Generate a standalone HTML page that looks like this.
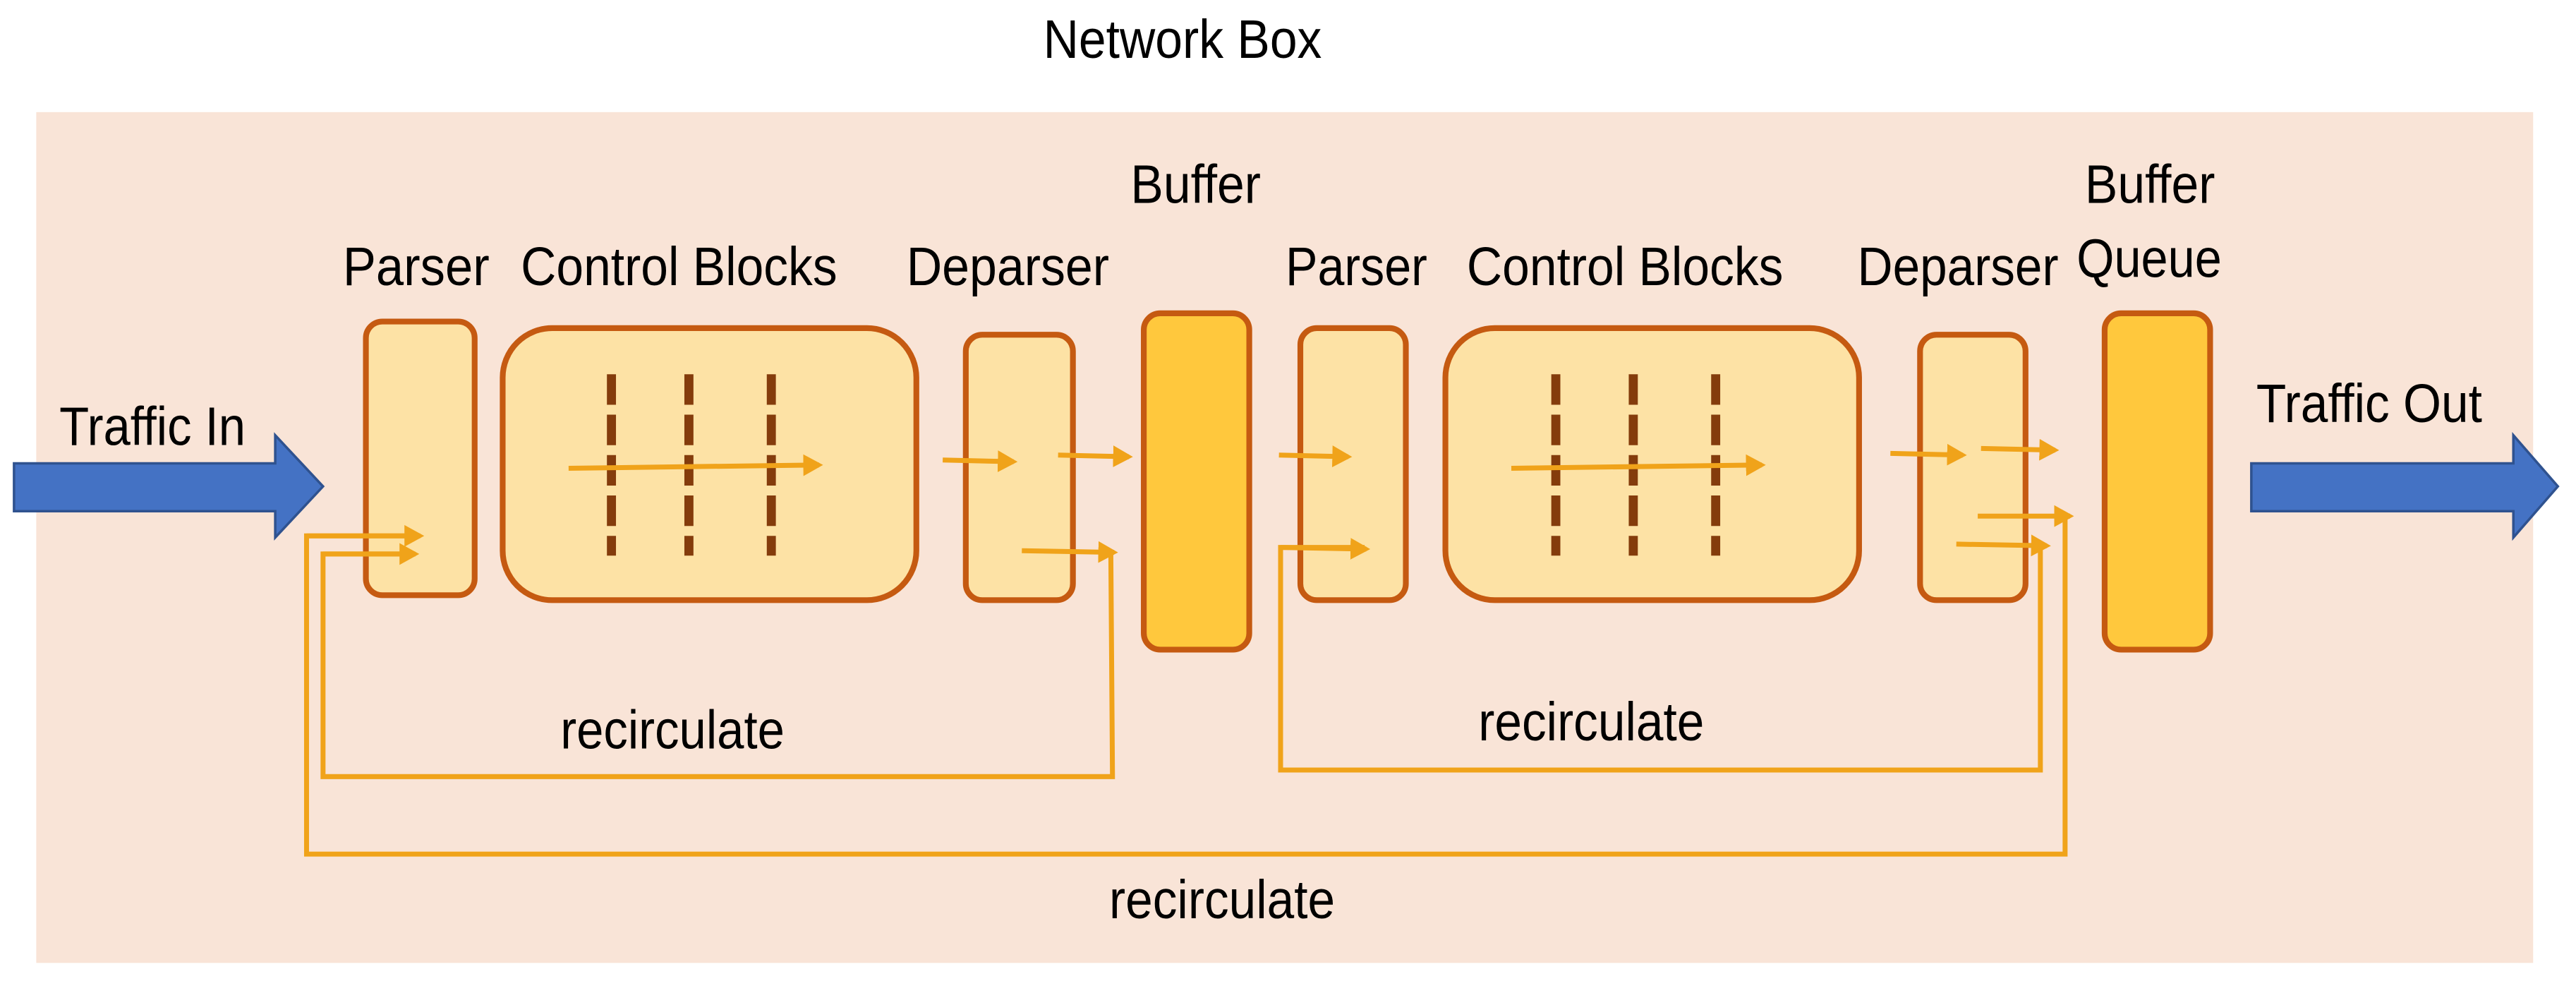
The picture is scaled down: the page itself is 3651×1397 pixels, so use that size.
<!DOCTYPE html>
<html><head><meta charset="utf-8"><style>html,body{margin:0;padding:0;background:#fff}svg{display:block}</style></head>
<body>
<svg width="3651" height="1397" viewBox="0 0 1563 598" preserveAspectRatio="none" xmlns="http://www.w3.org/2000/svg">
<defs>
<marker id="ah" markerWidth="5" markerHeight="5" refX="3.2" refY="2.5" orient="auto" markerUnits="strokeWidth">
<path d="M0,0.3 L4,2.5 L0,4.7 Z" fill="#f0a31a"/>
</marker>
</defs>
<g font-family="Liberation Sans, Arial, sans-serif" fill="#000" font-size="33">
<text x="633" y="35" textLength="169" lengthAdjust="spacingAndGlyphs">Network Box</text>
</g>
<rect x="22" y="68" width="1515" height="516" fill="#f9e4d7"/>
<g font-family="Liberation Sans, Arial, sans-serif" fill="#000" font-size="33">
<text x="36" y="270" textLength="113" lengthAdjust="spacingAndGlyphs">Traffic In</text>
<text x="1369" y="256" textLength="137" lengthAdjust="spacingAndGlyphs">Traffic Out</text>
<text x="208" y="173" textLength="89" lengthAdjust="spacingAndGlyphs">Parser</text>
<text x="316" y="173" textLength="192" lengthAdjust="spacingAndGlyphs">Control Blocks</text>
<text x="550" y="173" textLength="123" lengthAdjust="spacingAndGlyphs">Deparser</text>
<text x="686" y="123" textLength="79" lengthAdjust="spacingAndGlyphs">Buffer</text>
<text x="780" y="173" textLength="86" lengthAdjust="spacingAndGlyphs">Parser</text>
<text x="890" y="173" textLength="192" lengthAdjust="spacingAndGlyphs">Control Blocks</text>
<text x="1127" y="173" textLength="122" lengthAdjust="spacingAndGlyphs">Deparser</text>
<text x="1265" y="123" textLength="79" lengthAdjust="spacingAndGlyphs">Buffer</text>
<text x="1260" y="168" textLength="88" lengthAdjust="spacingAndGlyphs">Queue</text>
<text x="340" y="454" textLength="136" lengthAdjust="spacingAndGlyphs">recirculate</text>
<text x="897" y="449" textLength="137" lengthAdjust="spacingAndGlyphs">recirculate</text>
<text x="673" y="557" textLength="137" lengthAdjust="spacingAndGlyphs">recirculate</text>
</g>
<!-- big arrows -->
<path d="M8.5,281 H167 V264 L196,295 L167,326 V310 H8.5 Z" fill="#4472c4" stroke="#2f528f" stroke-width="1.5"/>
<path d="M1366,281 H1525 V264 L1552,295 L1525,326 V310 H1366 Z" fill="#4472c4" stroke="#2f528f" stroke-width="1.5"/>
<!-- boxes -->
<g stroke="#c55a11" stroke-width="3.5" fill="#fde2a5">
<rect x="222" y="195" width="66" height="166" rx="10"/>
<rect x="305" y="199" width="251" height="165" rx="30"/>
<rect x="586" y="203" width="65" height="161" rx="10"/>
<rect x="694" y="190" width="64" height="204" rx="10" fill="#ffc83d"/>
<rect x="789" y="199" width="64" height="165" rx="10"/>
<rect x="877" y="199" width="251" height="165" rx="30"/>
<rect x="1165" y="203" width="64" height="161" rx="10"/>
<rect x="1277" y="190" width="64" height="204" rx="10" fill="#ffc83d"/>
</g>
<g stroke="#843c0c" stroke-width="5.5" stroke-dasharray="18.5 6">
<line x1="371" y1="227" x2="371" y2="337"/>
<line x1="418" y1="227" x2="418" y2="337"/>
<line x1="468" y1="227" x2="468" y2="337"/>
<line x1="944" y1="227" x2="944" y2="337"/>
<line x1="991" y1="227" x2="991" y2="337"/>
<line x1="1041" y1="227" x2="1041" y2="337"/>
</g>
<g stroke="#f0a31a" stroke-width="3" fill="none">
<!-- loops -->
<polyline points="254,325 186,325 186,518 1253,518 1253,313"/>
<polyline points="251,336 196,336 196,471 675,471 674,336"/>
<polyline points="828,332 777,332 777,467 1238,467 1238,331"/>
<g marker-end="url(#ah)">
<line x1="345" y1="284" x2="497" y2="282"/>
<line x1="917" y1="284" x2="1069" y2="282"/>
<line x1="572" y1="279" x2="615" y2="280"/>
<line x1="642" y1="276" x2="685" y2="277"/>
<line x1="620" y1="334" x2="676" y2="335"/>
<line x1="186" y1="325" x2="255" y2="325"/>
<line x1="196" y1="336" x2="252" y2="336"/>
<line x1="776" y1="276" x2="818" y2="277"/>
<line x1="777" y1="332" x2="829" y2="333"/>
<line x1="1147" y1="275" x2="1191" y2="276"/>
<line x1="1202" y1="272" x2="1247" y2="273"/>
<line x1="1200" y1="313" x2="1256" y2="313"/>
<line x1="1187" y1="330" x2="1242" y2="331"/>
</g>
</g>
</svg>
</body></html>
